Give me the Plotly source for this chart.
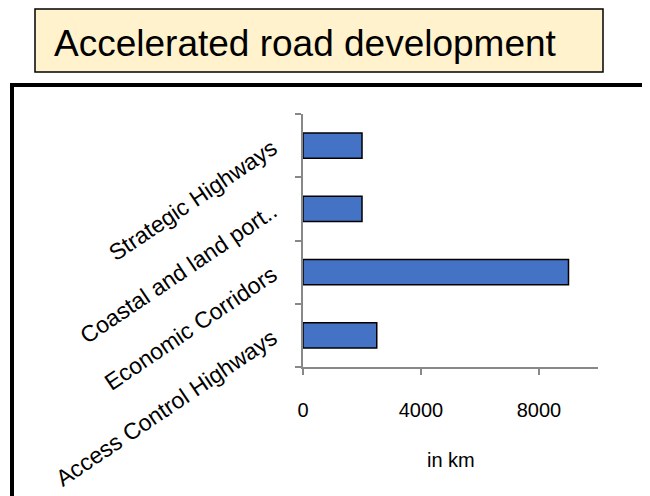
"""Accelerated road development: planned km by highway programme."""

import plotly.graph_objects as go

categories = ["Access Control Highways", "Economic Corridors",
              "Coastal and land port..", "Strategic Highways"]
km_values = [2500, 9000, 2000, 2000]
x_ticks = [0, 4000, 8000]

# the page puts the figure 8px in from the window corner
OFF = 8
W, H = 650 - OFF, 496 - OFF
ML, MR, MT, MB = 303 - OFF, 650 - 598, 114 - OFF, 496 - 367
PW, PH = W - ML - MR, H - MT - MB


def px(x):
    return (x - OFF - ML) / PW


def py(y):
    return 1 - (y - OFF - MT) / PH


fig = go.Figure()
fig.add_trace(go.Bar(
    y=categories, x=km_values,
    orientation="h",
    marker=dict(color="#4472C4", line=dict(color="black", width=1.5)),
))

# title box and outer frame
fig.add_shape(type="rect", xref="paper", yref="paper",
              x0=px(35), x1=px(603), y0=py(72), y1=py(9),
              fillcolor="#FFF2CC", line=dict(color="black", width=1.5), layer="below")
fig.add_shape(type="rect", xref="paper", yref="paper",
              x0=px(12), x1=px(700), y0=py(560), y1=py(85),
              line=dict(color="black", width=4), layer="below")
fig.add_annotation(text="Accelerated road development", xref="paper", yref="paper",
                   x=px(52), y=py(43), xanchor="left", yanchor="middle", showarrow=False,
                   font=dict(size=37, color="black"))
fig.add_annotation(text="in km", xref="paper", yref="paper",
                   x=px(451), y=py(460), xanchor="center", yanchor="middle", showarrow=False,
                   font=dict(size=20, color="black"))

fig.update_layout(
    width=W, height=H,
    margin=dict(l=ML, r=MR, t=MT, b=MB, autoexpand=False),
    paper_bgcolor="white", plot_bgcolor="white",
    font=dict(family="Liberation Sans, Arial, sans-serif", color="black"),
    bargap=0.6,
    showlegend=False,
    xaxis=dict(range=[0, 10000], tickvals=x_ticks, showgrid=False, zeroline=False,
               showline=True, linecolor="#888888", linewidth=2, automargin=False,
               ticks="outside", ticklen=6, tickcolor="#888888", tickwidth=1.5,
               tickfont=dict(size=20), ticklabelstandoff=18),
    yaxis=dict(showgrid=False, zeroline=False, showline=True, linecolor="#888888",
               linewidth=2, ticks="outside", ticklen=6, tickcolor="#888888",
               tickwidth=1.5, tickson="boundaries", tickangle=-34, automargin=False,
               tickfont=dict(size=23), ticklabelstandoff=24),
)

fig.write_html("out.html")
